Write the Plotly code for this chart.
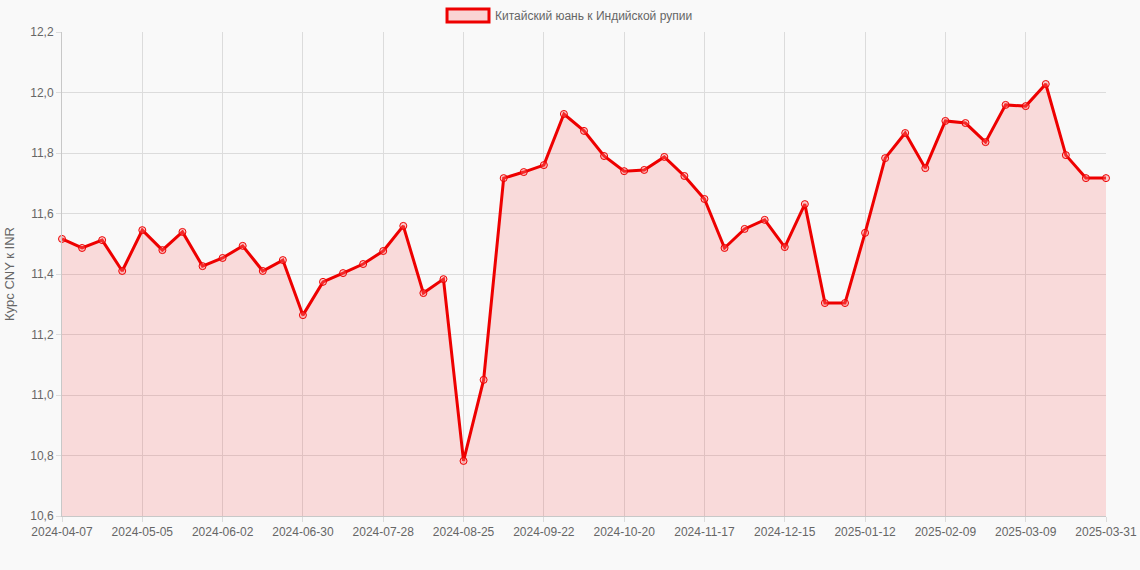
import plotly.graph_objects as go

dates = [
    "2024-04-07", "2024-04-14", "2024-04-21", "2024-04-28", "2024-05-05", "2024-05-12",
    "2024-05-19", "2024-05-26", "2024-06-02", "2024-06-09", "2024-06-16", "2024-06-23",
    "2024-06-30", "2024-07-07", "2024-07-14", "2024-07-21", "2024-07-28", "2024-08-04",
    "2024-08-11", "2024-08-18", "2024-08-25", "2024-09-01", "2024-09-08", "2024-09-15",
    "2024-09-22", "2024-09-29", "2024-10-06", "2024-10-13", "2024-10-20", "2024-10-27",
    "2024-11-03", "2024-11-10", "2024-11-17", "2024-11-24", "2024-12-01", "2024-12-08",
    "2024-12-15", "2024-12-22", "2024-12-29", "2025-01-05", "2025-01-12", "2025-01-19",
    "2025-01-26", "2025-02-02", "2025-02-09", "2025-02-16", "2025-02-23", "2025-03-02",
    "2025-03-09", "2025-03-16", "2025-03-23", "2025-03-30", "2025-03-31",
]

cny_inr = [
    11.516, 11.486, 11.512, 11.410, 11.545, 11.479, 11.539, 11.426, 11.453, 11.493,
    11.410, 11.446, 11.264, 11.374, 11.403, 11.433, 11.476, 11.559, 11.337, 11.383,
    10.782, 11.050, 11.717, 11.737, 11.760, 11.929, 11.873, 11.790, 11.740, 11.744,
    11.787, 11.724, 11.648, 11.486, 11.549, 11.579, 11.489, 11.631, 11.304, 11.304,
    11.536, 11.783, 11.866, 11.750, 11.906, 11.899, 11.836, 11.959, 11.955, 12.028,
    11.793, 11.717, 11.717,
]

tick_dates = dates[::4] + [dates[-1]]
series_name = "Китайский юань к Индийской рупии"

bg = "#f9f9f9"
grid = "#dcdcdc"
text_col = "#666666"

fig = go.Figure()
fig.add_trace(go.Scatter(
    x=dates,
    y=cny_inr,
    mode="lines+markers",
    name=series_name,
    fill="tozeroy",
    fillcolor="rgba(255,0,0,0.12)",
    line=dict(color="#ee0000", width=3),
    marker=dict(size=7, color="rgba(255,120,120,0.35)", line=dict(color="#ee0000", width=1)),
    cliponaxis=False,
    showlegend=False,
))

# chart.js style legend box
fig.add_shape(type="rect", xref="paper", yref="paper",
              x0=0.3688, x1=0.409, y0=1.0207, y1=1.0475,
              line=dict(color="#ee0000", width=3), fillcolor="rgba(255,0,0,0.15)")
fig.add_annotation(text=series_name, xref="paper", yref="paper",
                   x=0.4128, y=1.034, xanchor="left", yanchor="middle", showarrow=False,
                   font=dict(size=12, color=text_col))

fig.update_layout(
    width=1140, height=570,
    margin=dict(l=62, r=34, t=32, b=54),
    paper_bgcolor=bg,
    plot_bgcolor=bg,
    font=dict(family="Liberation Sans, Arial, sans-serif", size=12, color=text_col),
    separators=", ",
)
fig.update_xaxes(
    type="category",
    range=[0, len(dates) - 1],
    tickmode="array", tickvals=tick_dates, ticktext=tick_dates,
    tickangle=0,
    automargin=False,
    showgrid=True, gridcolor=grid, gridwidth=1,
    showline=True, linecolor="#c8c8c8", linewidth=1,
    ticks="outside", ticklen=5, tickcolor=grid,
    zeroline=False,
)
fig.update_yaxes(
    range=[10.6, 12.2],
    dtick=0.2, tick0=10.6, tickformat=".1f",
    automargin=False,
    showgrid=True, gridcolor=grid, gridwidth=1,
    showline=True, linecolor="#c8c8c8", linewidth=1,
    ticks="outside", ticklen=5, tickcolor=grid,
    zeroline=False,
    title=dict(text="Курс CNY к INR", font=dict(size=13, color=text_col), standoff=12),
)

fig.write_html(
    "out.html",
    config={"displayModeBar": False},
    post_script="document.body.style.margin='0';document.body.style.background='%s';" % bg,
)
